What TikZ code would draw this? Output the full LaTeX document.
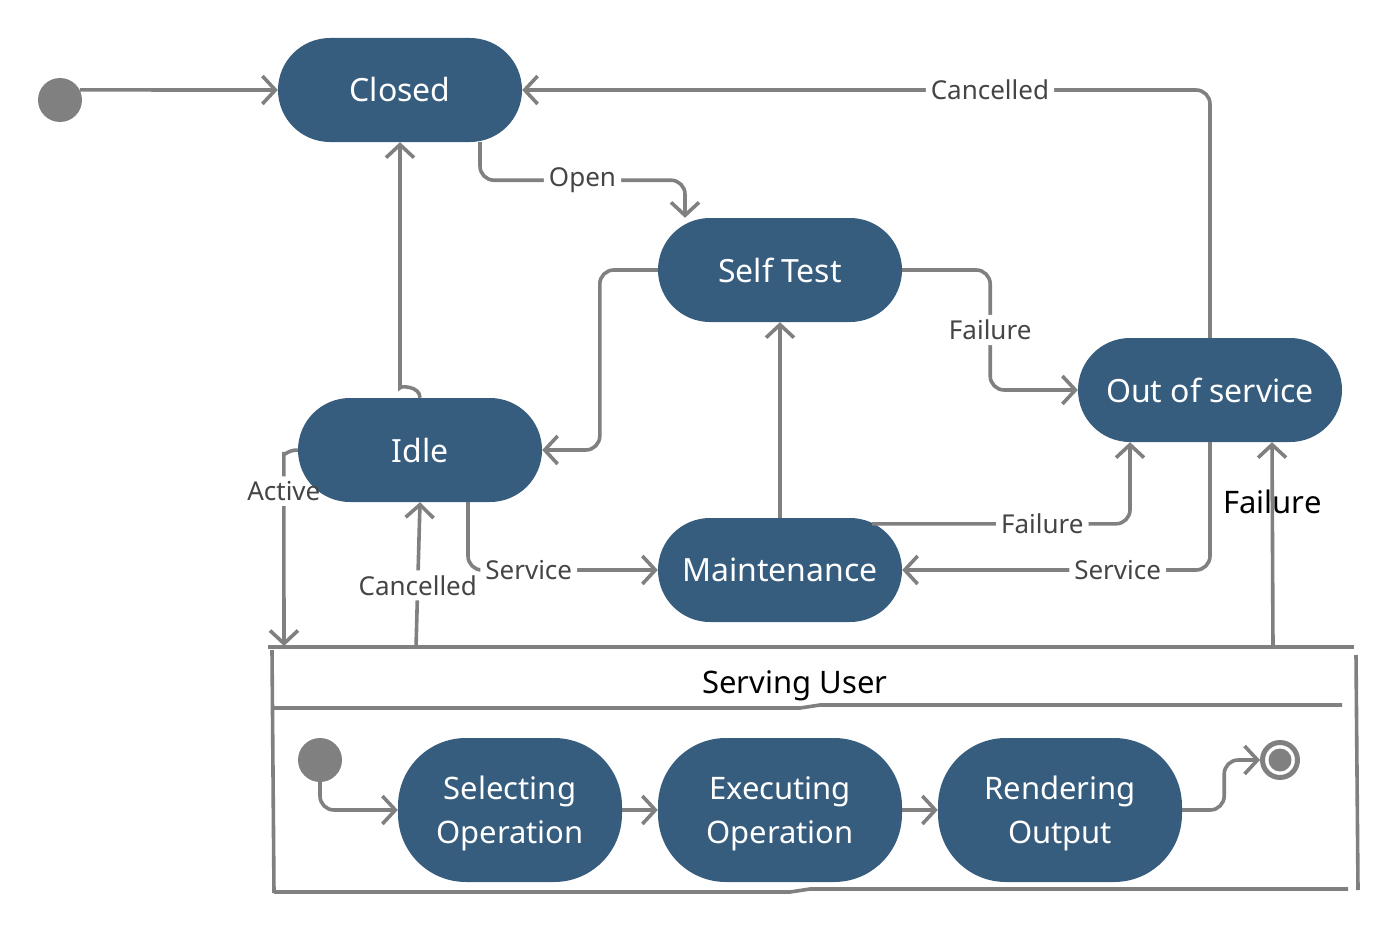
\documentclass[tikz,border=0pt]{standalone}
\usepackage{fontspec}
\setmainfont{Noto Sans}
\usetikzlibrary{arrows.meta,calc}
\definecolor{stfill}{HTML}{365C7E}
\definecolor{ln}{HTML}{808080}
\definecolor{lbl}{HTML}{454545}
\pgfdeclarelayer{bg}
\pgfsetlayers{bg,main}
\begin{document}
\begin{tikzpicture}[x=1pt,y=-1pt,
 state/.style={fill=stfill, text=white, rounded corners=52pt, minimum width=244pt, minimum height=104pt, inner sep=0pt, font=\fontsize{32}{38}\selectfont},
 sub/.style={state, minimum width=224pt, minimum height=144pt, rounded corners=68pt, align=center, font=\fontsize{31}{44}\selectfont},
 conn/.style={draw=ln, line width=3.6pt, rounded corners=14pt, -{Straight Barb[length=13pt,width=28pt]}},
 elabel/.style={fill=white, text=lbl, font=\fontsize{26}{30}\selectfont, inner sep=5pt},
 dot/.style={circle, fill=ln, minimum size=44pt, inner sep=0pt},
 boxline/.style={draw=ln, line width=3.6pt},
]
\useasboundingbox (0,0) rectangle (1398,934);

% states
\node[dot] (init) at (60,100) {};
\node[state] (Closed) at (400,90) {Closed};
\node[state] (Self) at (780,270) {Self Test};
\node[state, minimum width=264pt] (OOS) at (1210,390) {Out of service};
\node[state] (Idle) at (420,450) {Idle};
\node[state] (Maint) at (780,570) {Maintenance};

% composite box
\draw[boxline] (268,647) -- (1354,647);
\draw[boxline] (272,650) -- (274,893);
\draw[boxline] (1356,655) -- (1358,890);
\draw[boxline] (272,708) -- (800,708) -- (820,705) -- (1342,705);
\draw[boxline] (274,892) -- (790,892) -- (810,889) -- (1348,889);
\node[text=black, font=\fontsize{31}{36}\selectfont] (title) at (795,686) {Serving User};

\coordinate (activeEnd) at (284,646);
\coordinate (cancStart) at (416,648);
\coordinate (failStart) at (1273,648);

% inner states
\node[dot] (iinit) at (320,760) {};
\node[sub] (Sel) at (510,810) {\rule{0pt}{30pt}Selecting\\Operation};
\node[sub, minimum width=244pt] (Exe) at (780,810) {\rule{0pt}{30pt}Executing\\Operation};
\node[sub, minimum width=244pt] (Ren) at (1060,810) {\rule{0pt}{30pt}Rendering\\Output};
\node[circle, draw=ln, line width=5pt, fill=white, minimum size=35pt, inner sep=0pt] (final) at (1280,760) {};
\node[circle, fill=ln, minimum size=23pt, inner sep=0pt] (finalin) at (final) {};

% connectors
\draw[conn] (init.27) -- (Closed.west);
\draw[conn] (OOS.north) |- node[elabel,pos=0.66]{Cancelled} (Closed.east);
\draw[conn] ([xshift=80pt]Closed.south) -- ++(0,38) -- node[elabel]{Open} ++(205,0) -- ([xshift=-95pt]Self.north);
\draw[conn] (Self.west) -- ++(-58,0) |- (Idle.east);
\draw[conn] (Self.east) -- ++(88,0) |- node[elabel,pos=0.25]{Failure} (OOS.west);
\draw[conn] (Idle.north) .. controls +(0,-12) and +(0,12) .. ($(Idle.north)+(-20,-24)$) -- (Closed.south);
\draw[conn] (Maint.north) -- (Self.south);
\draw[conn] ($(Maint.north)+(92,6)$) -| node[elabel,pos=0.33]{Failure} ([xshift=-80pt]OOS.south);
\draw[conn] (OOS.south) |- node[elabel,pos=0.65]{Service} (Maint.east);
\draw[conn] ([xshift=48pt]Idle.south) |- node[elabel,pos=0.66]{Service} (Maint.west);
\begin{pgfonlayer}{bg}
\draw[conn] (Idle.west) .. controls +(-12,0) and +(0,-8) .. ($(Idle.west)+(-14,16)$) -- node[elabel,pos=0.14,text opacity=0] (actlbl) {Active} (activeEnd);
\end{pgfonlayer}
\node[elabel, fill=none] at (actlbl) {Active};
\draw[conn] (cancStart) -- node[elabel,pos=0.43]{Cancelled} (Idle.south);
\draw[conn] (failStart) -- node[behind path, text=black, font=\fontsize{31}{36}\selectfont, pos=0.71]{Failure} ([xshift=62pt]OOS.south);

% inner connectors
\draw[conn] (iinit.south) |- (Sel.west);
\draw[conn] (Sel.east) -- (Exe.west);
\draw[conn] (Exe.east) -- (Ren.west);
\draw[conn] (Ren.east) -- ++(42,0) |- (final.west);
\end{tikzpicture}
\end{document}
